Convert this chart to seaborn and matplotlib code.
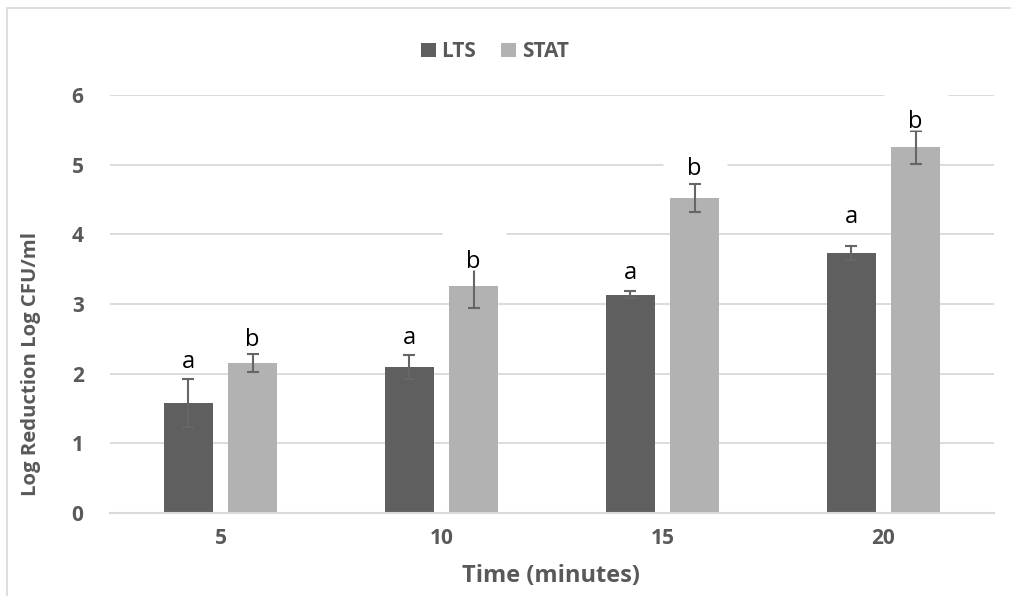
import numpy as np
import pandas as pd
import matplotlib
matplotlib.use("Agg")
import matplotlib.pyplot as plt
import matplotlib.transforms as mtransforms
from matplotlib.path import Path
from matplotlib.patches import Patch, Rectangle
import seaborn as sns

# ---- data ----
times = ["5", "10", "15", "20"]
strains = ["LTS", "STAT"]
lts_mean = [1.58, 2.10, 3.13, 3.73]
stat_mean = [2.15, 3.26, 4.52, 5.25]
lts_err = [0.34, 0.17, 0.05, 0.10]
stat_err = [0.13, 0.32, 0.20, 0.24]
lts_letters = ["a", "a", "a", "a"]
stat_letters = ["b", "b", "b", "b"]
lts_letter_y = [2.17, 2.51, 3.44, 4.25]
stat_letter_y = [2.48, 3.60, 4.94, 5.61]

df = pd.DataFrame({
    "Time": times * 2,
    "Strain": ["LTS"] * 4 + ["STAT"] * 4,
    "Value": lts_mean + stat_mean,
})

sns.set_theme(style="white")
plt.rcParams["font.family"] = ["Open Sans", "DejaVu Sans"]

TEXT = "#595959"
GRID = "#d9d9d9"
palette = {"LTS": "#5f5f5f", "STAT": "#b2b2b2"}

fig = plt.figure(figsize=(10.11, 5.96), dpi=100)
ax = fig.add_axes([110 / 1011, 83 / 596, 884 / 1011, 418 / 596])

sns.barplot(data=df, x="Time", y="Value", hue="Strain", order=times,
            hue_order=strains, palette=palette, width=0.58, gap=0.23,
            errorbar=None, linewidth=0, legend=False, zorder=2, ax=ax)

# error bars and significance letters (letters sit on white label boxes)
box = Path([(-32, -20), (32, -20), (32, 20), (-32, 20), (-32, -20)],
           [Path.MOVETO, Path.LINETO, Path.LINETO, Path.LINETO, Path.CLOSEPOLY])
box_tr = mtransforms.offset_copy(ax.transData, fig=fig, x=0, y=12, units="dots")
for cont, means, errs, letters, ly in zip(
        ax.containers, [lts_mean, stat_mean], [lts_err, stat_err],
        [lts_letters, stat_letters], [lts_letter_y, stat_letter_y]):
    xs = [b.get_x() + b.get_width() / 2 for b in cont]
    ax.errorbar(xs, means, yerr=errs, fmt="none", ecolor="#666666",
                elinewidth=1.5, capsize=4, capthick=1.5, zorder=3)
    ax.plot(xs, ly, linestyle="none", marker=box, markersize=46,
            markerfacecolor="white", markeredgecolor="none",
            transform=box_tr, zorder=3.5, clip_on=False)
    for x, y, t in zip(xs, ly, letters):
        ax.text(x, y, t, ha="center", va="center", fontsize=17,
                color="black", zorder=4, clip_on=False)

ax.set_ylim(0, 6)
ax.set_yticks(range(0, 7))
ax.set_xlim(-0.5, 3.5)
ax.set_axisbelow(True)
ax.yaxis.grid(True, color=GRID, linewidth=1.3, zorder=0)
ax.xaxis.grid(False)
for side in ["left", "right", "top"]:
    ax.spines[side].set_visible(False)
ax.spines["bottom"].set_color(GRID)
ax.spines["bottom"].set_linewidth(1.5)
ax.tick_params(axis="both", length=0, labelsize=15, labelcolor=TEXT)
ax.tick_params(axis="y", pad=19)
ax.tick_params(axis="x", pad=11)
for lab in ax.get_xticklabels() + ax.get_yticklabels():
    lab.set_fontweight("bold")
ax.set_xlabel("")
ax.set_ylabel("")

fig.text(0.545, 1 - 582 / 596, "Time (minutes)", ha="center", va="baseline",
         fontsize=17, fontweight="bold", color=TEXT)
fig.text(0.0307, 0.39, "Log Reduction Log CFU/ml", ha="center", va="center",
         rotation=90, fontsize=14.6, fontweight="bold", color=TEXT)

handles = [Patch(facecolor=palette[s], edgecolor="none", label=s) for s in strains]
leg = fig.legend(handles=handles, loc="center", bbox_to_anchor=(0.4896, 0.913),
                 ncol=2, frameon=False, fontsize=15, handlelength=0.72,
                 handleheight=0.72, handletextpad=0.29, columnspacing=1.2)
for t in leg.get_texts():
    t.set_color(TEXT)
    t.set_fontweight("bold")

# chart-area outline
fig.patches.append(Rectangle((7 / 1011, -0.1), 1.2, 1.1 - 8 / 596,
                             transform=fig.transFigure, fill=False,
                             edgecolor=GRID, linewidth=1.2, zorder=0))

fig.savefig("out.png", dpi=100)
